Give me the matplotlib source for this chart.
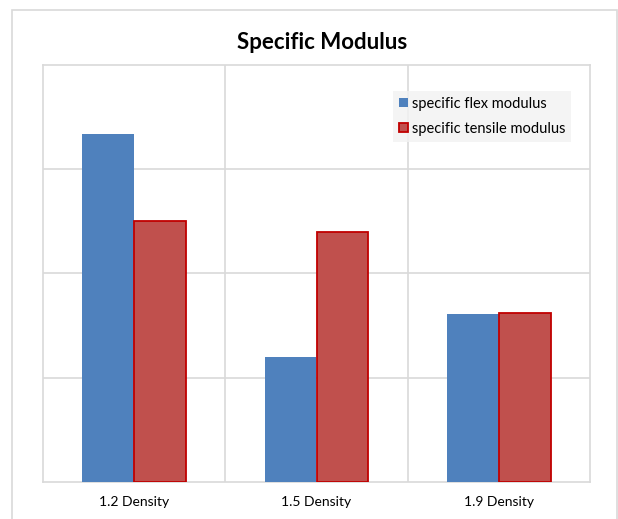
import matplotlib
matplotlib.use("Agg")
import matplotlib.pyplot as plt
import matplotlib.patches as mpatches
import numpy as np

# ---------------------------------------------------------------------------
# Datos (en unidades de línea de cuadrícula, eje sin etiquetas)
# ---------------------------------------------------------------------------
categorias = ["1.2 Density", "1.5 Density", "1.9 Density"]
flex_modulus = [3.33, 1.20, 1.61]
tensile_modulus = [2.50, 2.40, 1.62]
series_names = ["specific flex modulus", "specific tensile modulus"]
titulo = "Specific Modulus"

AZUL = "#4f81bd"
ROJO = "#c0504d"
BORDE_ROJO = "#c00000"
GRIS = "#d9d9d9"

plt.rcParams["font.family"] = ["Lato", "DejaVu Sans"]

fig = plt.figure(figsize=(6.18, 5.19), dpi=100)
W, H = 618, 519
ax = fig.add_axes([43 / W, 1 - 482 / H, (590 - 43) / W, (482 - 64.5) / H])

# Borde exterior del gráfico (el borde inferior queda fuera de la imagen)
fig.patches.append(mpatches.Rectangle((11.5 / W, -0.02), (617 - 11.5) / W, 1.02 - 9.5 / H,
                                      transform=fig.transFigure, fill=False,
                                      edgecolor=GRIS, linewidth=1.2))

x = np.arange(len(categorias))
ancho = 0.285
ax.bar(x - ancho / 2, flex_modulus, ancho, color=AZUL, zorder=3,
       label=series_names[0])
ax.bar(x + ancho / 2, tensile_modulus, ancho, color=ROJO, edgecolor=BORDE_ROJO,
       linewidth=1.3, zorder=3, label=series_names[1])

ax.set_xlim(-0.5, 2.5)
ax.set_ylim(0, 4)
ax.set_yticks([1, 2, 3])
ax.set_yticklabels([])
ax.set_xticks(x)
ax.set_xticklabels(categorias, fontsize=10)
ax.set_xticks([0.5, 1.5], minor=True)
ax.tick_params(axis="both", which="both", length=0, pad=10)
ax.grid(axis="y", which="major", color=GRIS, linewidth=1.2, zorder=0)
ax.grid(axis="x", which="minor", color=GRIS, linewidth=1.2, zorder=0)
for s in ax.spines.values():
    s.set_color(GRIS)
    s.set_linewidth(1.2)

fig.text(322 / W, 1 - 42.5 / H, titulo, ha="center", va="center",
         fontsize=16, fontweight="bold")

leg = ax.legend(loc="upper right", bbox_to_anchor=(0.965, 0.9365),
                borderaxespad=0, fontsize=10.5, frameon=True, fancybox=False,
                handlelength=0.6, handleheight=0.6, handletextpad=0.25,
                labelspacing=0.75, borderpad=0.4)
leg.get_frame().set_facecolor("#f2f2f2")
leg.get_frame().set_edgecolor("none")

fig.savefig("out.png", dpi=100)
